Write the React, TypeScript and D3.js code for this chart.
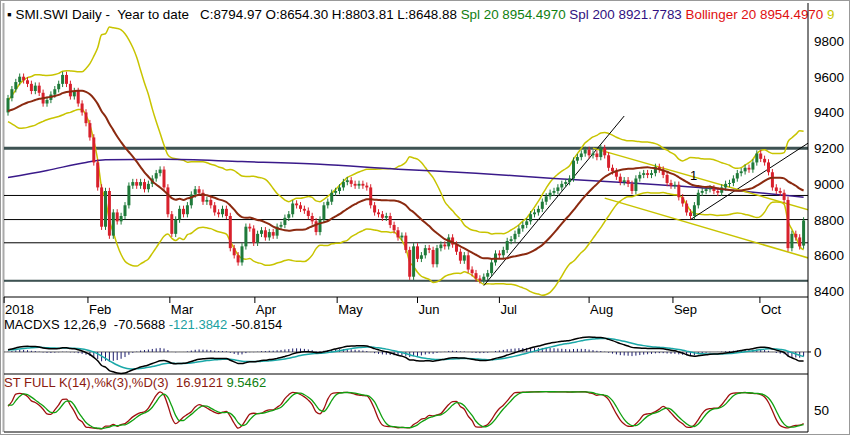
import React from "react";
import * as d3 from "d3";

const priorCloses = [9330, 9350, 9370, 9360, 9380, 9390, 9360, 9340, 9370, 9400, 9410, 9390, 9380, 9400, 9420, 9390, 9380, 9370, 9360, 9380, 9400, 9390, 9380, 9385, 9400, 9420, 9440, 9430, 9410, 9430, 9450, 9440, 9420, 9400];

const closes = [
  9480, 9530, 9570, 9600, 9580, 9560, 9520, 9550, 9510, 9450, 9470, 9500, 9530, 9560, 9610, 9560, 9490, 9520, 9450, 9400,
  9340, 9260, 9120, 8980, 8760, 8960, 8710, 8840, 8790, 8820, 8880, 8990, 9010, 8990, 9010, 8970, 9000, 9030, 9060, 9080,
  8980, 8830, 8720, 8800, 8860, 8830, 8880, 8940, 8970, 8950, 8900, 8910, 8880, 8840, 8830, 8860, 8820, 8640, 8600, 8560,
  8650, 8760, 8750, 8670, 8720, 8740, 8700, 8730, 8710, 8760, 8770, 8810, 8830, 8890, 8880, 8860, 8850, 8820, 8790, 8730,
  8800, 8880, 8900, 8950, 8960, 8980, 9010, 9020, 9000, 8990, 9000, 8990, 8980, 8880, 8840, 8830, 8810, 8820, 8770, 8740,
  8700, 8710, 8630, 8480, 8650, 8580, 8600, 8640, 8630, 8550, 8640, 8660, 8650, 8700, 8660, 8620, 8570, 8600, 8520, 8500,
  8470, 8460, 8480, 8500, 8560, 8610, 8600, 8630, 8680, 8690, 8720, 8750, 8770, 8790, 8830, 8840, 8860, 8900, 8930, 8950,
  8960, 8980, 9000, 9010, 9030, 9130, 9150, 9170, 9190, 9160, 9170, 9150, 9200, 9160, 9090, 9070, 9040, 9010, 9020, 9000,
  8960, 9030, 9050, 9060, 9050, 9060, 9095, 9080, 9050, 9005, 8990, 8995, 8925, 8890, 8840, 8820, 8880, 8950, 8960, 8970,
  8975, 8960, 8950, 8980, 9000, 9005, 9030, 9060, 9070, 9090, 9080, 9120, 9170, 9140, 9120, 9065, 8980, 8960, 8950, 8910,
  8640, 8720, 8700, 8650, 8795,
];
const lastOpen = 8654.3;

const sma200Idx = [0, 10, 20, 25, 40, 60, 80, 100, 120, 140, 160, 180, 204];
const sma200Val = [9035, 9075, 9120, 9135, 9138, 9125, 9110, 9082, 9060, 9030, 9005, 8975, 8925];

const monthLabels = ["2018", "Feb", "Mar", "Apr", "May", "Jun", "Jul", "Aug", "Sep", "Oct"];
const monthIdx = [-1, 20.5, 41.5, 63.3, 84.4, 105, 126, 149, 170.5, 192.8];

const priceTicks = [8400, 8600, 8800, 9000, 9200, 9400, 9600, 9800];
const hLines = [8935, 8800, 8670, 8458];

export default function App() {
  const W = 850, H = 435;
  const left = 4, right = 808;
  const x = (i: number) => 8 + 3.9 * i;
  const y = d3.scaleLinear().domain([8400, 9800]).range([291, 41]);

  const all = priorCloses.concat(closes);
  const P = priorCloses.length;
  const opens = closes.map((c, i) => (i === closes.length - 1 ? lastOpen : i === 0 ? priorCloses[P - 1] : closes[i - 1]));
  const highs = closes.map((c, i) => Math.max(c, opens[i]) + 18);
  const lows = closes.map((c, i) => Math.min(c, opens[i]) - 18);

  const sma20: number[] = [], up: number[] = [], lo: number[] = [];
  closes.forEach((_, i) => {
    const w = all.slice(P + i - 19, P + i + 1);
    const m = d3.mean(w)!;
    const s = Math.sqrt(d3.mean(w.map((v) => (v - m) ** 2))!);
    sma20.push(m); up.push(m + 2 * s); lo.push(m - 2 * s);
  });

  const ema = (arr: number[], n: number) => {
    const k = 2 / (n + 1); const out: number[] = []; let e = arr[0];
    arr.forEach((v) => { e = v * k + e * (1 - k); out.push(e); }); return out;
  };
  const e12 = ema(all, 12), e26 = ema(all, 26);
  const macdAll = e12.map((v, i) => v - e26[i]);
  const sigAll = ema(macdAll, 9);
  const macd = macdAll.slice(P), sig = sigAll.slice(P);
  const hist = macd.map((v, i) => v - sig[i]);
  const ym = d3.scaleLinear().domain([-170, 110]).range([372, 339]);

  const allH = priorCloses.map((c) => c + 20).concat(highs);
  const allL = priorCloses.map((c) => c - 20).concat(lows);
  const rawK = all.map((c, i) => {
    const hh = d3.max(allH.slice(Math.max(0, i - 13), i + 1))!;
    const ll = d3.min(allL.slice(Math.max(0, i - 13), i + 1))!;
    return ((c - ll) / (hh - ll)) * 100;
  });
  const sma = (a: number[], n: number) => a.map((_, i) => d3.mean(a.slice(Math.max(0, i - n + 1), i + 1))!);
  const kS = sma(rawK, 3); const dS = sma(kS, 3);
  const kk = kS.slice(P), dd = dS.slice(P);
  const ys = d3.scaleLinear().domain([0, 100]).range([430, 390]);

  const ln = (arr: number[], sc: (v: number) => number) =>
    d3.line<number>().x((_, i) => x(i)).y((v) => sc(v)).curve(d3.curveMonotoneX)(arr)!;
  const s200 = d3.line<number>().x((_, i) => x(sma200Idx[i])).y((v) => y(v)).curve(d3.curveMonotoneX)(sma200Val)!;

  const font = "'Liberation Sans', Arial, sans-serif";
  const frame = "#3d5252";

  return (
    <svg width={W} height={H} style={{ position: "absolute", left: 0, top: 0 }} fontFamily={font}>
      <rect x={0} y={0} width={W} height={H} fill="#fff" />
      <rect x={0.5} y={0.5} width={W - 1} height={H - 1} fill="none" stroke="#999" />
      <line x1={3.5} x2={3.5} y1={3} y2={H - 3} stroke="#aaa" strokeWidth={2} />
      <defs>
        <clipPath id="mc"><rect x={left} y={3} width={right - left} height={294} /></clipPath>
      </defs>
      <text x={7} y={19} fontSize={13.4} style={{ whiteSpace: "pre" }}>
        <tspan fill="#000">{"▪ SMI.SWI Daily -  Year to date   C:8794.97 O:8654.30 H:8803.81 L:8648.88 "}</tspan>
        <tspan fill="#108010">{"Spl 20 8954.4970 "}</tspan>
        <tspan fill="#301080">{"Spl 200 8921.7783 "}</tspan>
        <tspan fill="#e01010">{"Bollinger 20 8954.4970 "}</tspan>
        <tspan fill="#c8c800">9</tspan>
      </text>
      <g clipPath="url(#mc)">
        {hLines.map((v) => <line key={v} x1={left} x2={right} y1={y(v)} y2={y(v)} stroke="#000" strokeWidth={1} />)}
        <line x1={left} x2={right} y1={y(9200)} y2={y(9200)} stroke={frame} strokeWidth={3} />
        <line x1={left} x2={right} y1={y(8458)} y2={y(8458)} stroke={frame} strokeWidth={2} />
        <path d={ln(up, y)} fill="none" stroke="#c8c400" strokeWidth={1.5} />
        <path d={ln(lo, y)} fill="none" stroke="#c8c400" strokeWidth={1.5} />
        <path d={s200} fill="none" stroke="#3a1a8a" strokeWidth={1.5} />
        <line x1={x(122)} y1={y(8430)} x2={x(158)} y2={y(9380)} stroke="#000" strokeWidth={1} />
        <line x1={x(175)} y1={y(8800)} x2={x(206)} y2={y(9240)} stroke="#000" strokeWidth={1} />
        <line x1={x(150)} y1={y(9200)} x2={x(206)} y2={y(8850)} stroke="#c8c400" strokeWidth={1.5} />
        <line x1={x(153)} y1={y(8920)} x2={x(206)} y2={y(8580)} stroke="#c8c400" strokeWidth={1.5} />
        {closes.map((c, i) => {
          const o = opens[i]; const upC = c >= o;
          const col = upC ? "#1f7a3a" : "#d8202c";
          return (
            <g key={i}>
              <line x1={x(i)} x2={x(i)} y1={y(highs[i])} y2={y(lows[i])} stroke={col} strokeWidth={1} />
              <rect x={x(i) - 1.5} width={3} y={y(Math.max(o, c))} height={Math.max(1, Math.abs(y(o) - y(c)))} fill={col} />
            </g>
          );
        })}
        <path d={ln(sma20, y)} fill="none" stroke="#8b2a10" strokeWidth={2} />
        <text x={690} y={180} fontSize={13} fill="#000">1</text>
      </g>
      <line x1={right} x2={right} y1={3} y2={H - 3} stroke="#000" />
      {priceTicks.map((v) => (
        <text key={v} x={814} y={y(v) + 5} fontSize={13.5} fill="#000">{v}</text>
      ))}
      <line x1={left} x2={right} y1={297} y2={297} stroke="#000" />
      {monthLabels.map((m, k) => (
        <g key={m}>
          <line x1={x(monthIdx[k])} x2={x(monthIdx[k])} y1={297} y2={303} stroke="#000" />
          <text x={x(monthIdx[k]) + 1} y={314} fontSize={13}>{m}</text>
        </g>
      ))}
      <text x={4} y={329} fontSize={13} style={{ whiteSpace: "pre" }}>
        <tspan fill="#000">{"MACDXS 12,26,9  -70.5688 "}</tspan>
        <tspan fill="#1aa0a0">{"-121.3842 "}</tspan>
        <tspan fill="#000">-50.8154</tspan>
      </text>
      <line x1={right} x2={right + 3} y1={ym(0)} y2={ym(0)} stroke="#000" />
      <text x={814} y={ym(0) + 5} fontSize={13.5}>0</text>
      <line x1={left} x2={right} y1={ym(0)} y2={ym(0)} stroke="#000" strokeWidth={0.6} />
      {hist.map((h, i) => (
        <line key={i} x1={x(i)} x2={x(i)} y1={ym(0)} y2={ym(h)} stroke="#1a1a6a" strokeWidth={1} />
      ))}
      <path d={ln(sig, ym)} fill="none" stroke="#1aa8a8" strokeWidth={1.5} />
      <path d={ln(macd, ym)} fill="none" stroke="#000" strokeWidth={1.5} />
      <line x1={left} x2={right} y1={374} y2={374} stroke="#000" />
      <text x={4} y={387} fontSize={13} style={{ whiteSpace: "pre" }}>
        <tspan fill="#8b1a10">{"ST FULL K(14),%k(3),%D(3)  16.9121 "}</tspan>
        <tspan fill="#108010">9.5462</tspan>
      </text>
      <path d={ln(kk, ys)} fill="none" stroke="#a01010" strokeWidth={1.3} />
      <path d={ln(dd, ys)} fill="none" stroke="#10a010" strokeWidth={1.3} />
      <text x={814} y={ys(50) + 5} fontSize={13.5}>50</text>
      <line x1={left} x2={right} y1={432} y2={432} stroke="#000" />
    </svg>
  );
}
